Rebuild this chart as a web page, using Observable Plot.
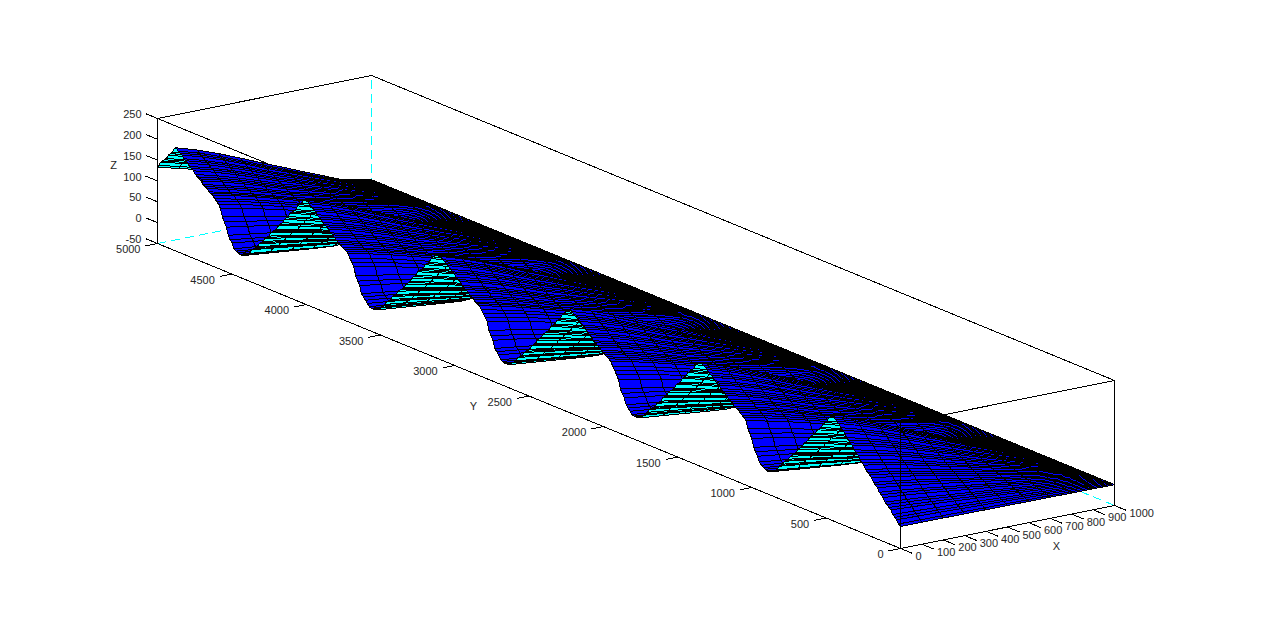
<!DOCTYPE html>
<html>
<head>
<meta charset="utf-8">
<script src="https://cdn.jsdelivr.net/npm/d3@7"></script>
<script src="https://cdn.jsdelivr.net/npm/@observablehq/plot@0.6"></script>
<style>html,body{margin:0;padding:0;background:#fff}svg{display:block}svg text{opacity:.999}</style>
</head>
<body>
<div id="chart"></div>
<script>
// ---- Data ----
const xColumns = [0,100,200,300,400,500,600,700,800,900,1000];
const ridgeZ   = [200,184,165,144,122,101,79,58,37,18,0];
const troughZ  = [4,-1,-6,-11,-15,-12,-9,-6,-4,-2,0];
const peakY    = [457,1346,2221,3116,4004,4865];
const valleyY  = [875,1763,2637,3533,4421];
const tableStep = 10;
const rowStep  = 13;
// Height at X=0 on table steps after Y=0
const frontRise = [3,7,11,15,19,24,28,33,37,42,46,51,55,60,64,69,73,78,82,87,91,96,100,105,109,114,118,123,127,132,136,141,145,150,154,159,163,168,172,177,181,185,189,193,196,198,199];
// Height at X=0 on table steps after a valley
const hillRise = [2,1,1,1,3,5,9,15,21,27,36,45,54,65,75,85,94,102,108,112,116,119,121,123,126,129,132,135,138,142,145,148,152,156,159,163,166,169,172,176,179,183,186,189,192,195,198,199,200];
// Height at X=0 on table steps after a peak
const hillFall = [200,198,194,189,183,178,172,167,162,157,152,147,142,137,131,126,121,116,110,105,100,95,90,85,80,75,70,65,60,56,51,46,42,37,33,28,24,18,13,9,5,3,2];
const xTicks = [0,100,200,300,400,500,600,700,800,900,1000];
const yTicks = [0,500,1000,1500,2000,2500,3000,3500,4000,4500,5000];
const zTicks = [-50,0,50,100,150,200,250];

// ---- View: orthographic camera fitted to the box corners ----
const project = ([X,Y,Z]) => [900 + 0.214*X - 0.1486*Y, 548 - 0.043*X - 0.061*Y - 0.4167*(Z+50)];
const px = p => project(p)[0], py = p => project(p)[1];

// ---- Surface ----
function rowHeight(Y){
  const i = Math.round(Y/tableStep);
  if (Y < peakY[0]) return i < frontRise.length ? frontRise[i] : 200;
  const p = d3.bisectRight(peakY, Y) - 1;
  const v = d3.bisectRight(valleyY, Y) - 1;
  if (v >= p) { const k = Math.round((Y-valleyY[v])/tableStep); return hillRise[Math.min(k,hillRise.length-1)]; }
  const k = Math.round((Y-peakY[p])/tableStep); return hillFall[Math.min(k,hillFall.length-1)];
}
const yRows = [...d3.range(0,5000,rowStep),5000];
const surfaceZ = (c,Y) => {
  const h = rowHeight(Y)/200;
  const dip = Y < peakY[0] ? 0 : troughZ[c]*(1-h);
  return ridgeZ[c]*h + dip;
};
const quadVerts = [];
let id = 0;
// Painter's order: far rows first, far columns first
for (let r = yRows.length-2; r >= 0; r--){
  for (let c = xColumns.length-2; c >= 0; c--){
    const Y0=yRows[r], Y1=yRows[r+1], X0=xColumns[c], X1=xColumns[c+1];
    const corners=[[X0,Y0,surfaceZ(c,Y0)],[X1,Y0,surfaceZ(c+1,Y0)],[X1,Y1,surfaceZ(c+1,Y1)],[X0,Y1,surfaceZ(c,Y1)]];
    const s=corners.map(project);
    let area=0;
    for(let i=0;i<4;i++){const a=s[i],b=s[(i+1)%4];area+=a[0]*b[1]-b[0]*a[1];}
    const face = area<0 ? "#0000ff" : "#00ffff";
    for (const k of [0,1,2,3,0]) quadVerts.push({id, face, p:corners[k]});
    id++;
  }
}
// ---- Box ----
const lo=-50, hi=250, XM=1000, YM=5000;
const edge=(a,b)=>({a,b});
const hiddenEdges=[edge([XM,YM,lo],[XM,YM,hi]),edge([0,YM,lo],[XM,YM,lo]),edge([XM,0,lo],[XM,YM,lo])];
const backEdges=[edge([0,YM,hi],[XM,YM,hi]),edge([XM,YM,hi],[XM,0,hi]),edge([0,YM,hi],[0,0,hi]),edge([0,0,hi],[XM,0,hi]),
  edge([0,YM,lo],[0,YM,hi]),edge([XM,0,lo],[XM,0,hi])];
const frontEdges=[edge([0,0,lo],[0,0,hi]),edge([0,0,lo],[0,YM,lo]),edge([0,0,lo],[XM,0,lo])];
const tickX=xTicks.map(v=>edge([v,0,lo],[v,-80,lo]));
const tickY=yTicks.map(v=>edge([0,v,lo],[-56,v,lo]));
const tickZ=zTicks.map(v=>edge([0,YM,v],[0,YM+80,v]));
const links=(d,o={})=>Plot.link(d,{x1:e=>px(e.a),y1:e=>py(e.a),x2:e=>px(e.b),y2:e=>py(e.b),stroke:"#000",strokeWidth:1,shapeRendering:"crispEdges",...o});
const font={fontFamily:"Liberation Sans",fontSize:11,fill:"#262626"};

const chart=Plot.plot({
  width:1270,height:622,margin:0,
  x:{domain:[0,1270],range:[0,1270],axis:null},
  y:{domain:[0,622],range:[0,622],axis:null},
  marks:[
    links(hiddenEdges,{stroke:"#00ffff",strokeDasharray:"9,5"}),
    links(backEdges),
    Plot.line(quadVerts,{x:d=>px(d.p),y:d=>py(d.p),z:"id",fill:"face",stroke:"#000",strokeWidth:1,curve:"linear",shapeRendering:"crispEdges"}),
    links(frontEdges),
    links(tickX),links(tickY),links(tickZ),
    Plot.text(xTicks,{x:v=>px([v,0,lo]),y:v=>py([v,0,lo]),text:v=>String(v),textAnchor:"start",dx:15,dy:8,...font}),
    Plot.text(yTicks,{x:v=>px([0,v,lo]),y:v=>py([0,v,lo]),text:v=>String(v),textAnchor:"end",dx:-17,dy:6,...font}),
    Plot.text(zTicks,{x:v=>px([0,YM,v]),y:v=>py([0,YM,v]),text:v=>String(v),textAnchor:"end",dx:-16,dy:-4,...font}),
    Plot.text(["X"],{x:()=>1056,y:()=>546,text:d=>d,...font}),
    Plot.text(["Y"],{x:()=>473,y:()=>406,text:d=>d,...font}),
    Plot.text(["Z"],{x:()=>113,y:()=>165,text:d=>d,...font})
  ]
});
document.getElementById("chart").appendChild(chart);
</script>
</body>
</html>
